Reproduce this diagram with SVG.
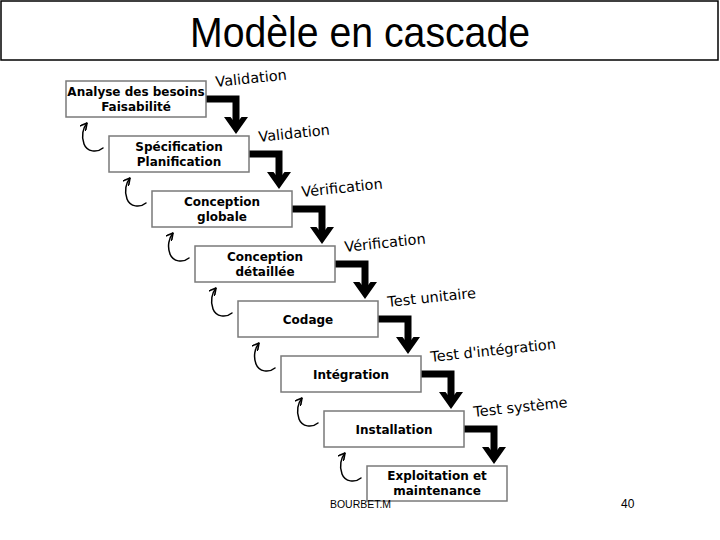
<svg xmlns="http://www.w3.org/2000/svg" xmlns:xlink="http://www.w3.org/1999/xlink" width="720" height="540" viewBox="0 0 720 540">
<style>
.box{fill:#fff;stroke:#7a7a7a;stroke-width:1.5}
.bt{font-family:"DejaVu Sans",Verdana,sans-serif;font-weight:bold;font-size:12px;fill:#000;text-anchor:middle}
.lbl{font-family:"DejaVu Sans",Verdana,sans-serif;font-size:14.5px;fill:#000}
.loop{fill:none;stroke:#000;stroke-width:1.5;stroke-linecap:round}
</style>
<defs>
<marker id="barb" markerUnits="userSpaceOnUse" markerWidth="8" markerHeight="8" viewBox="0 0 6 6" refX="5.5" refY="3" orient="auto">
<path d="M0,0 L5.5,3 L0,6" fill="none" stroke="#000" stroke-width="1.2"/>
</marker>
<g id="thick">
<polyline points="0,0 30,0 30,27" fill="none" stroke="#000" stroke-width="7" stroke-linejoin="miter"/>
<polygon points="18,18 24.5,18 30,25 35.5,18 42,18 30,35" fill="#000"/>
</g>
<path id="loopArrow" class="loop" d="M-6,12 C-12,17 -22,16 -25,8 C-28,0 -26,-8 -22,-13" marker-end="url(#barb)"/>
</defs>
<rect width="720" height="540" fill="#fff"/>
<g id="title">
<rect x="1" y="1" width="717" height="59" fill="#fff" stroke="#000" stroke-width="1.5"/>
<text x="190" y="47" font-family="Liberation Sans,Arial,sans-serif" font-size="43" textLength="340" lengthAdjust="spacingAndGlyphs">Modèle en cascade</text>
</g>
<g id="connectors">
<use xlink:href="#thick" x="206" y="99"/>
<use xlink:href="#thick" x="249" y="154"/>
<use xlink:href="#thick" x="292" y="209"/>
<use xlink:href="#thick" x="335" y="264"/>
<use xlink:href="#thick" x="378" y="319"/>
<use xlink:href="#thick" x="421" y="374"/>
<use xlink:href="#thick" x="464" y="429"/>
<use xlink:href="#loopArrow" x="109" y="136"/>
<use xlink:href="#loopArrow" x="152" y="191"/>
<use xlink:href="#loopArrow" x="195" y="246"/>
<use xlink:href="#loopArrow" x="238" y="301"/>
<use xlink:href="#loopArrow" x="281" y="356"/>
<use xlink:href="#loopArrow" x="324" y="411"/>
<use xlink:href="#loopArrow" x="367" y="466"/>
<text class="lbl" x="216" y="87" transform="rotate(-6 216 87)">Validation</text>
<text class="lbl" x="259" y="142" transform="rotate(-6 259 142)">Validation</text>
<text class="lbl" x="302" y="197" transform="rotate(-6 302 197)">Vérification</text>
<text class="lbl" x="345" y="252" transform="rotate(-6 345 252)">Vérification</text>
<text class="lbl" x="388" y="307" transform="rotate(-6 388 307)">Test unitaire</text>
<text class="lbl" x="431" y="362" transform="rotate(-6 431 362)">Test d'intégration</text>
<text class="lbl" x="474" y="417" transform="rotate(-6 474 417)">Test système</text>
</g>
<g id="n1"><rect class="box" x="66" y="81" width="140" height="36"/><text class="bt" x="136" y="96">Analyse des besoins</text><text class="bt" x="136" y="111">Faisabilité</text></g>
<g id="n2"><rect class="box" x="109" y="136" width="140" height="36"/><text class="bt" x="179" y="151">Spécification</text><text class="bt" x="179" y="166">Planification</text></g>
<g id="n3"><rect class="box" x="152" y="191" width="140" height="36"/><text class="bt" x="222" y="206">Conception</text><text class="bt" x="222" y="221">globale</text></g>
<g id="n4"><rect class="box" x="195" y="246" width="140" height="36"/><text class="bt" x="265" y="261">Conception</text><text class="bt" x="265" y="276">détaillée</text></g>
<g id="n5"><rect class="box" x="238" y="301" width="140" height="36"/><text class="bt" x="308" y="323.5">Codage</text></g>
<g id="n6"><rect class="box" x="281" y="356" width="140" height="36"/><text class="bt" x="351" y="378.5">Intégration</text></g>
<g id="n7"><rect class="box" x="324" y="411" width="140" height="36"/><text class="bt" x="394" y="433.5">Installation</text></g>
<g id="n8"><rect class="box" x="367" y="466" width="140" height="35"/><text class="bt" x="437" y="480">Exploitation et</text><text class="bt" x="437" y="495">maintenance</text></g>
<g id="footer">
<text x="330" y="508" font-family="Liberation Sans,Arial,sans-serif" font-size="10.5" textLength="61" lengthAdjust="spacingAndGlyphs">BOURBET.M</text>
<text x="621" y="508" font-family="Liberation Sans,Arial,sans-serif" font-size="12">40</text>
</g>
</svg>
